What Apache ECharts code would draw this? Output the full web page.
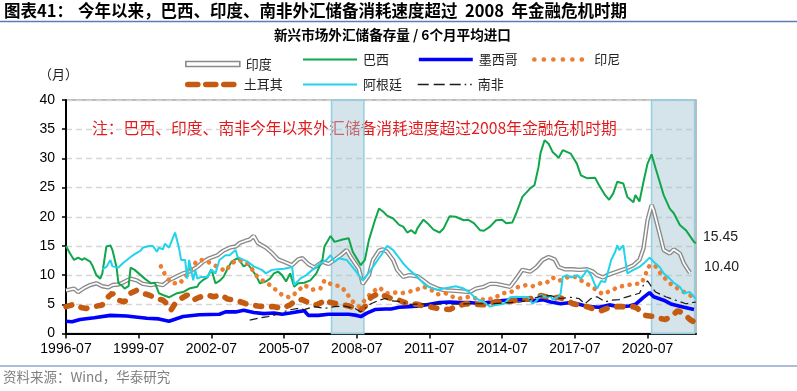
<!DOCTYPE html>
<html><head><meta charset="utf-8">
<script src="https://cdn.jsdelivr.net/npm/echarts@6/dist/echarts.min.js"></script>
<style>html,body{margin:0;padding:0;background:#fff}#c{width:797px;height:391px}</style>
</head><body><div id="c"></div>
<script>
// x values are months since 1996-07
const xTickMonths = [0, 36, 72, 108, 144, 180, 216, 252, 288];
const xTickLabels = ['1996-07','1999-07','2002-07','2005-07','2008-07','2011-07','2014-07','2017-07','2020-07'];
const yTicks = [0, 5, 10, 15, 20, 25, 30, 35, 40];
const crisisPeriods = [[131.5, 147.5], [290, 311.3]];

const india = [[0,7.4],[4,7.7],[6,7.1],[9,7.8],[12,8.3],[15,8.6],[18,8.1],[21,7.9],[23,8.3],[26,8.4],[28,8.7],[32,9.4],[35,9.1],[38,8.5],[42,8.3],[45,8.5],[48,8.3],[51,9.1],[55,9.8],[58,10.3],[61,10.6],[65,11.4],[68,12.3],[71,12.9],[75,13.4],[78,14.2],[81,14.7],[84,14.9],[86,15.5],[89,15.9],[91,16.1],[93,16.7],[95,15.5],[99,14.7],[102,13.8],[105,12.7],[108,12.3],[112,11.7],[115,12.7],[117,12.9],[120,11.9],[123,11.3],[127,12.3],[130,11.9],[133,12.6],[136,13.4],[139,14.3],[141,13.1],[145,11.1],[147,8.5],[150,10.0],[152,12.6],[155,14.2],[157,14.4],[159,14.0],[162,12.6],[164,10.9],[167,9.7],[170,10.0],[174,9.8],[177,9.1],[180,8.3],[184,7.7],[188,7.4],[193,7.3],[200,7.1],[203,7.7],[207,8.0],[210,8.5],[213,8.5],[216,8.3],[220,8.0],[223,9.4],[226,10.9],[230,10.6],[233,11.4],[236,12.6],[239,13.1],[242,12.7],[244,11.4],[247,11.0],[251,11.0],[254,10.9],[258,11.0],[261,10.6],[263,10.0],[266,9.6],[268,10.0],[273,10.6],[277,11.1],[281,11.7],[284,12.6],[286,14.6],[288,19.4],[290,22.0],[291,21.1],[294,17.1],[296,14.3],[299,13.7],[301,14.4],[304,13.7],[306,12.0],[308,10.9],[309,10.40]];

const brazil = [[0,15.0],[2,13.7],[4,12.6],[6,13.0],[8,12.6],[9,12.9],[12,12.3],[13,11.7],[15,10.0],[17,9.4],[18,10.3],[20,14.9],[22,15.1],[23,14.3],[25,11.4],[26,8.6],[28,8.1],[29,7.7],[31,8.1],[32,11.3],[34,10.9],[37,10.0],[39,9.4],[42,8.6],[44,8.7],[46,6.9],[48,6.6],[51,6.2],[55,6.9],[58,7.1],[61,7.7],[65,8.0],[66,8.6],[68,9.2],[70,9.6],[72,11.0],[74,8.6],[76,9.0],[78,9.7],[80,11.1],[82,12.3],[85,12.9],[88,11.5],[90,11.9],[94,10.0],[96,8.6],[99,8.9],[101,9.4],[103,10.3],[105,10.6],[107,10.0],[109,8.9],[111,10.3],[113,8.0],[115,8.6],[118,8.7],[121,9.1],[124,10.3],[127,12.6],[128,14.9],[131,16.7],[133,15.7],[137,16.1],[140,16.3],[142,14.0],[146,11.7],[148,12.6],[150,16.0],[153,19.4],[155,21.4],[157,20.9],[159,20.2],[162,19.7],[165,18.6],[167,18.3],[169,17.3],[171,17.7],[173,17.1],[174,18.0],[177,19.5],[179,18.9],[182,17.8],[185,17.3],[187,18.0],[190,20.1],[193,20.0],[197,19.4],[199,19.5],[202,18.9],[205,17.7],[207,17.6],[210,18.3],[213,19.4],[216,19.5],[218,18.9],[221,19.0],[223,20.6],[226,23.4],[230,24.9],[232,25.4],[234,28.5],[235,30.9],[237,33.1],[239,32.5],[241,31.1],[244,30.1],[246,31.4],[248,31.1],[250,30.8],[253,29.1],[255,27.1],[258,26.6],[262,26.7],[264,25.4],[267,23.7],[269,22.9],[271,24.0],[273,26.0],[276,25.7],[278,23.4],[281,22.5],[282,23.7],[284,22.6],[286,26.0],[288,29.1],[290,30.7],[292,28.3],[296,23.7],[299,21.4],[301,20.6],[304,18.6],[307,17.7],[311,15.7],[312,15.45]];

const mexico = [[0,2.1],[3,2.0],[7,2.4],[14,2.7],[22,3.1],[30,3.0],[40,2.6],[46,2.5],[51,2.1],[58,2.9],[66,3.2],[76,3.3],[79,3.7],[84,3.7],[88,4.0],[93,3.6],[98,3.4],[103,3.5],[107,3.3],[111,3.5],[114,3.7],[118,3.9],[120,3.1],[125,3.1],[130,3.3],[135,3.3],[140,3.3],[144,3.1],[146,2.9],[149,3.5],[153,4.1],[158,4.2],[161,4.2],[165,4.5],[170,4.6],[175,4.7],[180,5.0],[185,5.3],[190,5.4],[195,5.3],[200,5.3],[205,5.1],[210,5.4],[215,5.6],[218,5.7],[223,5.8],[228,5.8],[233,5.6],[236,5.8],[240,5.4],[245,5.1],[250,5.3],[254,5.0],[259,4.6],[264,4.5],[269,4.9],[274,4.6],[279,4.7],[282,5.0],[286,6.2],[289,7.0],[291,6.3],[296,5.7],[300,5.0],[305,4.6],[311,4.1]];

const indonesia = [[47,11.5],[49,10.1],[52,8.7],[56,8.5],[59,9.6],[62,11.1],[65,12.5],[68,12.6],[72,12.0],[75,11.4],[79,10.7],[82,12.0],[85,12.6],[89,12.3],[92,11.1],[94,10.0],[98,8.9],[102,8.1],[105,7.1],[108,6.4],[111,6.2],[114,7.0],[118,8.3],[122,7.5],[126,7.7],[128,9.1],[132,8.3],[136,8.1],[139,7.0],[141,5.8],[145,4.6],[148,5.7],[151,6.9],[155,7.9],[159,6.9],[163,7.0],[166,6.9],[169,7.1],[173,7.4],[177,8.0],[180,7.7],[184,6.7],[188,6.9],[192,6.2],[195,6.0],[200,6.3],[203,6.0],[207,5.8],[212,6.0],[216,6.9],[220,7.0],[224,8.0],[228,8.3],[231,8.1],[235,8.6],[238,8.7],[241,9.6],[244,9.0],[248,9.6],[252,9.7],[256,8.9],[259,8.3],[263,7.4],[266,6.7],[270,7.4],[274,8.0],[278,8.3],[282,8.5],[285,8.6],[287,10.0],[288,11.3],[290,11.8],[292,11.5],[295,10.0],[300,8.3],[304,7.5],[307,6.9],[311,6.2]];

const turkey = [[0,4.6],[4,5.0],[7,4.5],[10,4.3],[14,4.6],[18,4.9],[21,6.3],[23,6.9],[26,5.7],[29,5.4],[32,6.9],[35,7.4],[38,6.9],[41,6.6],[45,6.0],[48,5.7],[50,5.1],[52,4.0],[54,5.1],[57,6.0],[60,6.6],[63,5.7],[66,6.2],[70,6.6],[73,6.3],[77,6.6],[80,5.9],[82,5.8],[85,5.6],[89,5.1],[92,4.9],[95,4.7],[99,4.6],[103,4.6],[107,4.3],[111,4.9],[114,5.7],[117,5.8],[121,5.1],[124,4.9],[127,5.4],[128,5.8],[131,5.3],[136,5.0],[140,4.7],[144,4.3],[146,4.0],[149,4.9],[151,6.2],[155,6.9],[158,6.4],[161,6.0],[165,5.7],[167,5.4],[170,5.1],[174,5.0],[177,4.7],[180,4.6],[184,4.3],[190,4.1],[193,4.6],[198,5.1],[203,5.0],[208,4.9],[213,5.4],[218,5.4],[223,5.7],[231,6.0],[235,6.5],[238,6.3],[241,6.0],[244,6.2],[248,5.7],[251,5.1],[254,4.9],[258,4.6],[262,4.1],[265,3.9],[268,4.3],[271,4.6],[276,4.6],[281,4.6],[283,4.3],[285,3.5],[287,3.1],[291,2.9],[294,2.6],[297,2.4],[301,3.3],[303,3.9],[306,3.4],[309,2.4],[311,2.0]];

const argentina = [[18,11.0],[20,11.4],[22,12.6],[23,11.5],[26,11.3],[28,12.0],[32,13.1],[34,13.6],[37,14.2],[38,14.7],[41,15.0],[43,15.0],[45,14.0],[46,14.7],[48,14.4],[49,15.4],[51,14.7],[54,17.3],[56,14.6],[57,12.6],[59,12.6],[60,9.4],[61,12.6],[63,9.1],[64,10.9],[65,9.4],[67,9.7],[70,9.7],[72,10.9],[74,10.3],[76,12.6],[79,13.4],[81,13.4],[84,14.3],[85,13.1],[88,12.6],[90,12.3],[93,11.5],[97,10.9],[99,10.3],[102,10.9],[105,11.0],[108,11.1],[112,11.4],[113,8.3],[116,9.4],[119,10.0],[122,10.9],[126,12.0],[129,12.6],[131,13.4],[133,12.3],[135,12.9],[139,12.6],[143,10.9],[147,9.1],[151,10.9],[156,13.4],[159,15.0],[162,14.3],[164,13.4],[167,12.0],[170,10.9],[174,9.7],[177,8.6],[180,7.9],[184,7.5],[187,7.7],[190,7.9],[193,8.1],[197,7.7],[200,7.0],[203,6.0],[207,5.4],[210,4.6],[213,4.9],[217,5.1],[220,6.2],[223,6.3],[229,6.2],[231,5.1],[233,5.6],[235,6.6],[237,6.3],[240,6.4],[241,5.8],[244,6.3],[245,6.9],[246,9.7],[248,10.0],[250,9.6],[253,10.0],[255,9.4],[257,10.3],[258,10.9],[260,10.0],[262,8.3],[263,7.7],[265,9.0],[267,8.8],[268,10.0],[270,12.6],[272,14.0],[273,15.1],[274,14.3],[276,15.1],[277,12.6],[278,10.3],[281,10.9],[284,11.4],[287,12.3],[289,13.0],[291,12.3],[294,11.4],[296,10.3],[299,9.4],[301,8.7],[304,8.0],[306,6.9],[309,7.1],[311,6.3],[312,5.9]];

const southAfrica = [[91,2.3],[95,2.6],[100,2.9],[105,3.3],[110,4.0],[115,4.3],[118,4.1],[123,4.6],[128,4.3],[133,4.6],[138,4.7],[143,4.3],[146,3.7],[149,4.6],[151,5.1],[155,5.7],[158,6.0],[161,5.6],[165,5.5],[170,5.0],[180,5.1],[190,5.0],[200,5.1],[210,5.1],[220,5.3],[225,5.4],[230,5.8],[235,6.4],[240,6.5],[245,6.0],[250,6.2],[254,6.0],[257,5.1],[260,6.0],[263,6.3],[267,5.4],[270,5.7],[274,5.8],[277,6.2],[281,6.6],[284,6.9],[286,8.3],[288,9.0],[290,8.0],[292,7.1],[297,6.3],[302,5.7],[307,5.1],[312,5.4]];

const CJK = '"Noto Sans CJK SC", "Noto Sans", sans-serif';
const NUM = '"Liberation Sans", Arial, sans-serif';

const C = {
  india: '#8a8a8a', brazil: '#10a64a', mexico: '#0000ff', indonesia: '#ed7d31',
  turkey: '#c55a11', argentina: '#22d3ec', sa: '#1a1a1a'
};
const S = {
  india: {color: C.india, width: 4.4},
  brazil: {color: C.brazil, width: 2},
  mexico: {color: C.mexico, width: 3.6},
  indonesia: {color: C.indonesia, width: 4.6, type: [0.1, 7.6], cap: 'round'},
  turkey: {color: C.turkey, width: 5.6, type: [6, 10], cap: 'round'},
  argentina: {color: C.argentina, width: 2},
  sa: {color: C.sa, width: 1.2, type: [8, 4, 8, 4, 8, 4, 2, 4]}
};

function line(name, data, ls, extra) {
  return Object.assign({
    name, type: 'line', data, symbol: 'none', showSymbol: false,
    lineStyle: ls, itemStyle: {color: ls.color}, emphasis: {disabled: true}
  }, extra || {});
}

const endLabel = (dx, dy) => ({
  show: true, formatter: p => p.value[1].toFixed(2), distance: 5, offset: [dx, dy],
  fontSize: 14, fontFamily: NUM, color: '#222'
});

const legendItems = [
  {name: '印度', left: 185, y: 60, w: 54, h: 5, icon: 'rect', itemStyle: {color: '#fff', borderColor: C.india, borderWidth: 1.6}},
  {name: '巴西', left: 302, y: 60, w: 54, h: 14, ls: S.brazil},
  {name: '墨西哥', left: 417, y: 60, w: 54, h: 14, ls: S.mexico},
  {name: '印尼', left: 532, y: 60, w: 54, h: 14, ls: {...S.indonesia, type: [0.1, 9.4]}},
  {name: '土耳其', left: 185, y: 85, w: 50, h: 14, ls: {...S.turkey, type: [10, 8]}},
  {name: '阿根廷', left: 302, y: 85, w: 54, h: 14, ls: S.argentina},
  {name: '南非', left: 417, y: 85, w: 54, h: 14, ls: {...S.sa, width: 1.4, type: [11, 5, 11, 5, 11, 4, 1.5, 4]}}
];

const legends = legendItems.map(it => {
  const d = {name: it.name};
  if (it.icon) { d.icon = it.icon; d.itemStyle = it.itemStyle; }
  else { d.itemStyle = {opacity: 0, color: 'transparent', borderWidth: 0}; }
  const lg = {
    left: it.left, top: it.y - it.h / 2, padding: 0, itemWidth: it.w, itemHeight: it.h,
    selectedMode: false, data: [d],
    textStyle: {fontSize: 13, fontFamily: CJK, color: '#222', padding: [0, 0, 0, 1]}
  };
  if (it.ls) lg.lineStyle = {width: it.ls.width, type: it.ls.type || 'solid', cap: it.ls.cap || 'butt', color: it.ls.color};
  return lg;
});

const option = {
  animation: false,
  backgroundColor: '#fff',
  grid: {left: 66, right: 101, top: 100, bottom: 57.5, show: true, borderColor: '#a6a6a6', borderWidth: 1.5, backgroundColor: 'transparent'},
  legend: legends,
  xAxis: {
    type: 'value', min: 0, max: 312, interval: 36,
    axisLine: {show: true, lineStyle: {color: '#000', width: 2}},
    axisTick: {show: true, length: 5, lineStyle: {color: '#000', width: 1.5}, customValues: xTickMonths},
    axisLabel: {
      customValues: xTickMonths, margin: 9, fontSize: 14, fontFamily: NUM, color: '#000',
      formatter: v => xTickLabels[xTickMonths.indexOf(v)] || ''
    },
    splitLine: {show: false}
  },
  yAxis: {
    type: 'value', min: yTicks[0], max: yTicks[yTicks.length - 1], interval: 5,
    axisLine: {show: true, lineStyle: {color: '#000', width: 2}},
    axisTick: {show: true, length: 4, lineStyle: {color: '#000', width: 1.5}},
    axisLabel: {margin: 11, fontSize: 14, fontFamily: NUM, color: '#000'},
    splitLine: {show: true, lineStyle: {color: '#d6d6d6', width: 1.4, type: [6, 4]}}
  },
  series: [
    line('印度', india, S.india, {endLabel: endLabel(9, -5.5)}),
    line('印度内线', india, {color: '#fff', width: 1.7}, {silent: true}),
    line('巴西', brazil, S.brazil, {endLabel: endLabel(2, -6)}),
    line('墨西哥', mexico, S.mexico),
    line('印尼', indonesia, S.indonesia),
    line('土耳其', turkey, S.turkey),
    line('阿根廷', argentina, S.argentina),
    line('南非', southAfrica, S.sa),
    {
      name: '危机时期', type: 'line', data: [], z: 6, silent: true,
      markArea: {
        silent: true,
        itemStyle: {color: 'rgba(160,195,208,0.45)', borderColor: '#93cfe0', borderWidth: 1.5},
        data: crisisPeriods.map(p => [{xAxis: p[0]}, {xAxis: p[1]}])
      }
    }
  ],
  graphic: [
    {type: 'text', left: 4, top: 2, style: {text: '图表41：', font: 'bold 16.5px ' + CJK, fill: '#000'}},
    {type: 'text', left: 78, top: 2, style: {text: '今年以来，巴西、印度、南非外汇储备消耗速度超过  2008  年金融危机时期', font: 'bold 16.5px ' + CJK, fill: '#000'}},
    {type: 'line', shape: {x1: 0, y1: 21.5, x2: 797, y2: 21.5}, style: {stroke: '#5a7db5', lineWidth: 1.5}},
    {type: 'text', left: 274, top: 28, style: {text: '新兴市场外汇储备存量 / 6个月平均进口', font: 'bold 13.6px ' + CJK, fill: '#000'}},
    {type: 'text', left: 39, top: 68, style: {text: '（月）', font: '13px ' + CJK, fill: '#222'}},
    {type: 'text', left: 92, top: 120, style: {text: '注：巴西、印度、南非今年以来外汇储备消耗速度超过2008年金融危机时期', font: '15.8px ' + CJK, fill: '#e3191c'}},
    {type: 'line', shape: {x1: 0, y1: 366, x2: 797, y2: 366}, style: {stroke: '#5a7db5', lineWidth: 1.2}},
    {type: 'text', left: 3, top: 370, style: {text: '资料来源：Wind，华泰研究', font: '13.5px ' + CJK, fill: '#808080'}}
  ]
};

const chart = echarts.init(document.getElementById('c'), null, {renderer: 'canvas'});
chart.setOption(option);
</script>
</body></html>
